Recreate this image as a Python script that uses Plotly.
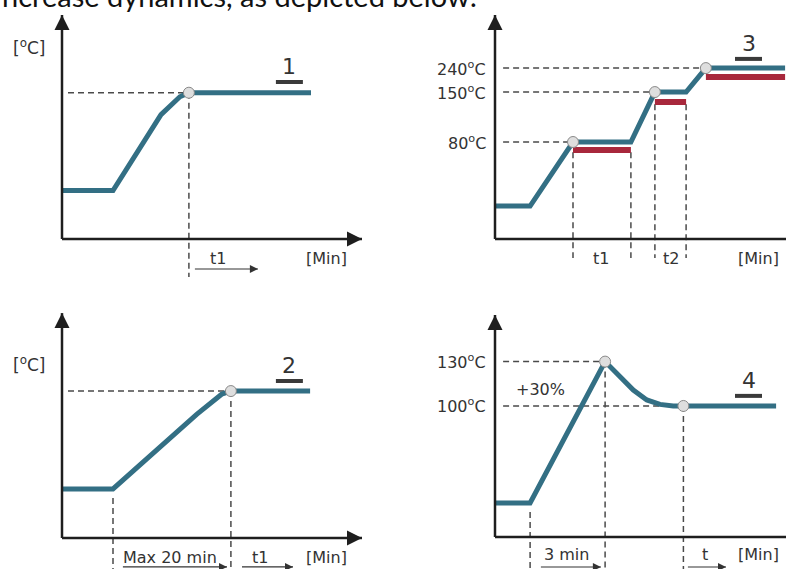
import plotly.graph_objects as go

W, H = 786, 569
SX, SY = 3.0, 2.24  # px per unit

CURVE = "#336f84"
RED = "#a8283c"
DASH = "#4a4a4a"
AXIS = "#1e1e1e"
TXT = "#333333"
FONT = "DejaVu Sans"

# ---------------- data (schematic units: time, level) ----------------
# Panel 1
p1_time = [0, 17, 33, 36.3, 39.3, 42.3, 83]
p1_temp = [21.6, 21.6, 55.5, 60, 63.5, 65.3, 65.3]
p1_reach = (42.3, 65.3)

# Panel 2
p2_time = [0, 17, 44.9, 49.3, 53.2, 56.3, 82.7]
p2_temp = [21.9, 21.9, 55.2, 60.1, 64.2, 65.6, 65.6]
p2_reach = (56.3, 65.6)
p2_start = (17, 21.9)

# Panel 3
p3_time = [0, 11.7, 26, 45.3, 53.3, 63.7, 70.3, 96.7]
p3_temp = [14.7, 14.7, 43.3, 43.3, 65.6, 65.6, 76.3, 76.3]
p3_levels = [43.3, 65.6, 76.3]
p3_level_labels = ["80<sup>o</sup>C", "150<sup>o</sup>C", "240<sup>o</sup>C"]
p3_reach_x = [26, 53.3, 70.3]
p3_hold_start = [26, 53.3, 70.3]
p3_hold_end = [45.3, 63.7, 96.7]
p3_hold_bar_y = [39.7, 61.2, 72.3]

# Panel 4
p4_time = [0, 11.7, 36.7, 41.7, 46.1, 50.6, 55.0, 59.4, 62.8, 93.7]
p4_temp = [15.2, 15.2, 78.3, 71.6, 65.6, 61.2, 59.2, 58.5, 58.5, 58.5]
p4_levels = [78.3, 58.5]
p4_level_labels = ["130<sup>o</sup>C", "100<sup>o</sup>C"]
p4_peak = (36.7, 78.3)
p4_settle = (62.8, 58.5)
p4_start = (11.7, 15.2)

# ---------------- layout of the four panels ----------------
panels = {
    1: ((0, 393, 0, 284), (62, 239)),
    2: ((393, 786, 0, 284), (495, 239)),
    3: ((0, 393, 284, 569), (62, 538)),
    4: ((393, 786, 284, 569), (495, 537)),
}

fig = go.Figure()
layout = dict(width=W, height=H, margin=dict(l=0, r=0, t=0, b=0),
              paper_bgcolor="white", plot_bgcolor="white", showlegend=False)
for i, ((x0, x1, y0, y1), (ox, oy)) in panels.items():
    s = "" if i == 1 else str(i)
    layout["xaxis" + s] = dict(domain=[x0 / W, x1 / W], range=[(x0 - ox) / SX, (x1 - ox) / SX],
                              visible=False, fixedrange=True)
    layout["yaxis" + s] = dict(domain=[1 - y1 / H, 1 - y0 / H], range=[(oy - y1) / SY, (oy - y0) / SY],
                              visible=False, fixedrange=True)
fig.update_layout(**layout)

annotations = []


def ax_ids(i):
    s = "" if i == 1 else str(i)
    return "x" + s, "y" + s


def line(i, xs, ys, color, width, dash=None):
    xa, ya = ax_ids(i)
    fig.add_trace(go.Scatter(x=xs, y=ys, mode="lines", xaxis=xa, yaxis=ya, hoverinfo="skip",
                             line=dict(color=color, width=width, dash=dash), cliponaxis=False))


def dashed(i, xs, ys):
    line(i, xs, ys, DASH, 1.5, "6px,4px")


def dots(i, xs, ys):
    xa, ya = ax_ids(i)
    fig.add_trace(go.Scatter(x=xs, y=ys, mode="markers", xaxis=xa, yaxis=ya, hoverinfo="skip",
                             marker=dict(size=11, color="#dedede", line=dict(color="#8a8a8a", width=1))))


def text(i, x, y, t, size=16, anchor="center", color=TXT):
    xa, ya = ax_ids(i)
    annotations.append(dict(x=x, y=y, xref=xa, yref=ya, text=t, showarrow=False,
                            xanchor=anchor, yanchor="middle", font=dict(family=FONT, size=size, color=color)))


def arrow(i, xs, ys, width, head, color, symbol):
    xa, ya = ax_ids(i)
    fig.add_trace(go.Scatter(x=xs, y=ys, mode="lines", xaxis=xa, yaxis=ya, hoverinfo="skip",
                             line=dict(color=color, width=width), cliponaxis=False))
    fig.add_trace(go.Scatter(x=[xs[-1]], y=[ys[-1]], mode="markers", xaxis=xa, yaxis=ya, hoverinfo="skip",
                             marker=dict(symbol=symbol, size=head, color=color, line=dict(width=0)),
                             cliponaxis=False))


def axes(i, xtip, ytip):
    arrow(i, [0, 0], [0, ytip], 2.5, 15, AXIS, "arrow-up")
    arrow(i, [0, xtip], [0, 0], 2.5, 15, AXIS, "arrow-right")


def label_bar(i, x, y, t):
    text(i, x, y + 7, t, size=22)
    line(i, [x - 4.5, x + 4.5], [y, y], "#3a3a3a", 4)


# ---- Panel 1 ----
dashed(1, [2, p1_reach[0]], [p1_reach[1], p1_reach[1]])
dashed(1, [p1_reach[0], p1_reach[0]], [p1_reach[1], -17])
line(1, p1_time, p1_temp, CURVE, 5)
dots(1, [p1_reach[0]], [p1_reach[1]])
axes(1, 100, 100)
text(1, -11, 85.7, "[<sup>o</sup>C]", 17)
label_bar(1, 75.8, 70.1, "1")
text(1, 52, -8.5, "t1")
arrow(1, [44.3, 65.3], [-13.4, -13.4], 1.2, 8, "#333333", "arrow-right")
text(1, 88.3, -8.5, "[Min]")

# ---- Panel 3 (top right) ----
for lv, xr in zip(p3_levels, p3_reach_x):
    dashed(2, [2.7, xr], [lv, lv])
for xs, xe, yb in zip(p3_hold_start[:2], p3_hold_end[:2], p3_hold_bar_y[:2]):
    dashed(2, [xs, xs], [yb - 1, -8.5])
    dashed(2, [xe, xe], [yb - 1, -8.5])
for xs, xe, yb in zip(p3_hold_start, p3_hold_end, p3_hold_bar_y):
    line(2, [xs, xe], [yb, yb], RED, 6)
line(2, p3_time, p3_temp, CURVE, 5)
dots(2, p3_reach_x, p3_levels)
axes(2, 97.5, 100)
for lv, lab in zip(p3_levels, p3_level_labels):
    text(2, -2.3, lv, lab, 16, anchor="right")
label_bar(2, 84.5, 80.4, "3")
text(2, 35.3, -8.5, "t1")
text(2, 58.7, -8.5, "t2")
text(2, 87.7, -8.5, "[Min]")

# ---- Panel 2 (bottom left) ----
dashed(3, [2, p2_reach[0]], [p2_reach[1], p2_reach[1]])
dashed(3, [p2_reach[0], p2_reach[0]], [p2_reach[1], -14])
dashed(3, [p2_start[0], p2_start[0]], [p2_start[1] - 4, -14])
line(3, p2_time, p2_temp, CURVE, 5)
dots(3, [p2_reach[0]], [p2_reach[1]])
axes(3, 100, 100.4)
text(3, -11, 77.7, "[<sup>o</sup>C]", 17)
label_bar(3, 75.8, 70.1, "2")
text(3, 36, -8.5, "Max 20 min")
text(3, 66, -8.5, "t1")
text(3, 88, -8.5, "[Min]")
arrow(3, [20.3, 55], [-12.9, -12.9], 1.2, 8, "#333333", "arrow-right")
arrow(3, [60, 77], [-12.9, -12.9], 1.2, 8, "#333333", "arrow-right")

# ---- Panel 4 (bottom right) ----
dashed(4, [2.7, p4_peak[0]], [p4_levels[0], p4_levels[0]])
dashed(4, [2.7, p4_settle[0]], [p4_levels[1], p4_levels[1]])
dashed(4, [p4_start[0], p4_start[0]], [p4_start[1] - 4, -15])
dashed(4, [p4_peak[0], p4_peak[0]], [p4_peak[1], -15])
dashed(4, [p4_settle[0], p4_settle[0]], [p4_settle[1], -15])
line(4, p4_time, p4_temp, CURVE, 5)
dots(4, [p4_peak[0], p4_settle[0]], [p4_peak[1], p4_settle[1]])
axes(4, 97.5, 99.1)
for lv, lab in zip(p4_levels, p4_level_labels):
    text(4, -2.3, lv, lab, 16, anchor="right")
text(4, 15, 66, "+30%", 16)
label_bar(4, 84.5, 63, "4")
text(4, 23.7, -8, "3 min")
arrow(4, [15.3, 35.3], [-13.4, -13.4], 1.2, 8, "#333333", "arrow-right")
text(4, 70, -8, "t")
arrow(4, [64.3, 77], [-13.4, -13.4], 1.2, 8, "#333333", "arrow-right")
text(4, 87.7, -8, "[Min]")

# ---- heading fragment at the top ----
annotations.append(dict(x=0, y=1 - 15 / H, xref="paper", yref="paper", xanchor="left", yanchor="bottom",
                        text="ncrease dynamics, as depicted below:", showarrow=False,
                        font=dict(family="Lato", size=29, color="#111111")))

fig.update_layout(annotations=annotations)
fig.write_html("out.html", config={"displayModeBar": False},
               post_script="document.body.style.margin='0';document.body.style.overflow='hidden';")
